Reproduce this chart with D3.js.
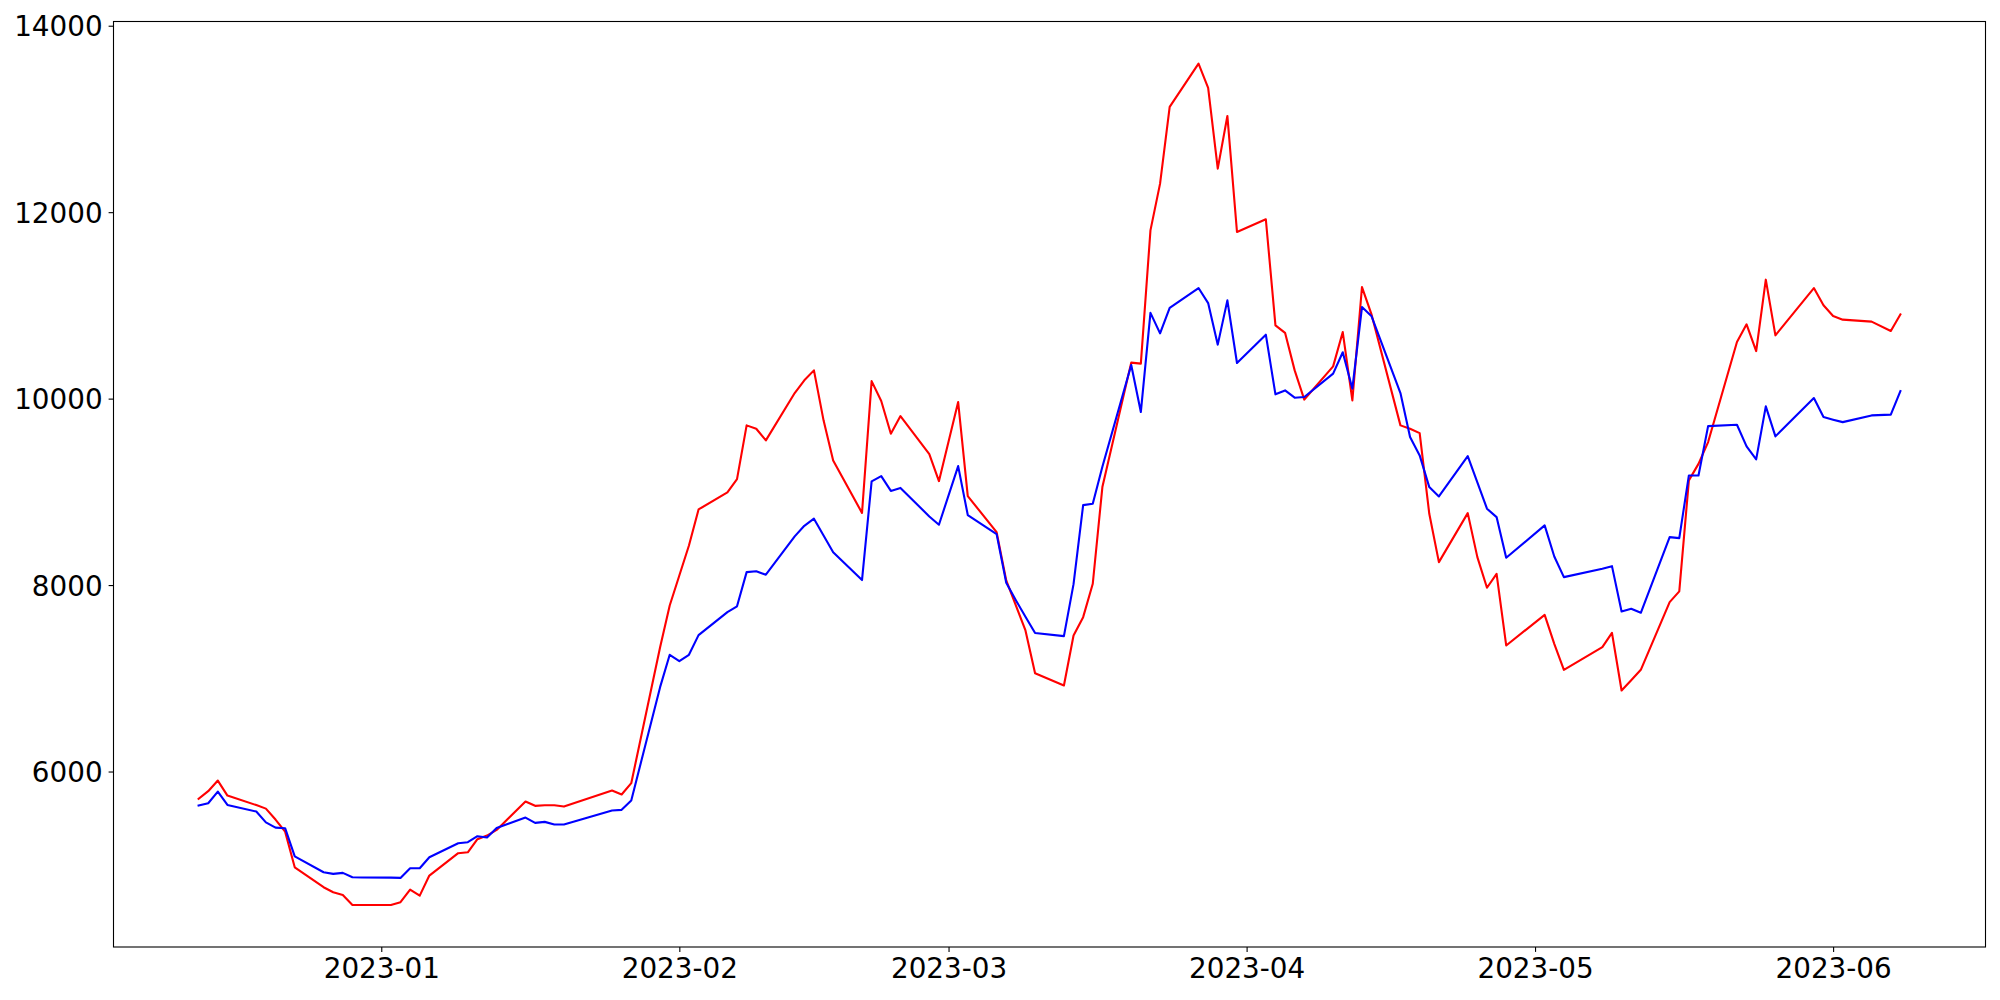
<!DOCTYPE html>
<html>
<head>
<meta charset="utf-8">
<script src="https://cdn.jsdelivr.net/npm/d3@7"></script>
<style>
  html, body { margin: 0; padding: 0; background: #ffffff; }
  svg { display: block; }
</style>
</head>
<body>
<svg id="chart" width="2000" height="1000"></svg>
<script>
// ---- data ----
const dates = [
  "2022-12-13","2022-12-14","2022-12-15","2022-12-16","2022-12-19","2022-12-20","2022-12-21","2022-12-22","2022-12-23",
  "2022-12-26","2022-12-27","2022-12-28","2022-12-29","2022-12-30",
  "2023-01-02","2023-01-03","2023-01-04","2023-01-05","2023-01-06",
  "2023-01-09","2023-01-10","2023-01-11","2023-01-12","2023-01-13",
  "2023-01-16","2023-01-17","2023-01-18","2023-01-19","2023-01-20",
  "2023-01-25","2023-01-26","2023-01-27",
  "2023-01-30","2023-01-31","2023-02-01","2023-02-02","2023-02-03",
  "2023-02-06","2023-02-07","2023-02-08","2023-02-09","2023-02-10",
  "2023-02-13","2023-02-14","2023-02-15","2023-02-16","2023-02-17",
  "2023-02-20","2023-02-21","2023-02-22","2023-02-23","2023-02-24",
  "2023-02-27","2023-02-28","2023-03-02","2023-03-03",
  "2023-03-06","2023-03-07","2023-03-08","2023-03-09","2023-03-10",
  "2023-03-13","2023-03-14","2023-03-15","2023-03-16","2023-03-17",
  "2023-03-20","2023-03-21","2023-03-22","2023-03-23","2023-03-24",
  "2023-03-27","2023-03-28","2023-03-29","2023-03-30","2023-03-31",
  "2023-04-03","2023-04-04","2023-04-05","2023-04-06","2023-04-07",
  "2023-04-10","2023-04-11","2023-04-12","2023-04-13","2023-04-14",
  "2023-04-17","2023-04-18","2023-04-19","2023-04-20","2023-04-21",
  "2023-04-24","2023-04-25","2023-04-26","2023-04-27","2023-04-28",
  "2023-05-02","2023-05-03","2023-05-04","2023-05-08","2023-05-09",
  "2023-05-10","2023-05-11","2023-05-12",
  "2023-05-15","2023-05-16","2023-05-17","2023-05-18","2023-05-19",
  "2023-05-22","2023-05-23","2023-05-24","2023-05-25","2023-05-26",
  "2023-05-30","2023-05-31","2023-06-01","2023-06-02",
  "2023-06-05","2023-06-07","2023-06-08"
];

const redValues = [
  5707, 5789, 5903, 5742, 5640, 5602, 5485, 5355, 4973,
  4759, 4705, 4676, 4569, 4569,
  4569, 4598, 4734, 4669, 4884,
  5124, 5134, 5274, 5313, 5374,
  5678, 5632, 5639, 5639, 5624,
  5796, 5753, 5875,
  7334, 7781, 8103, 8425, 8811,
  8995, 9137, 9713, 9677, 9552,
  10060, 10196, 10303, 9767, 9337,
  8774, 10188, 9974, 9624, 9813,
  9405, 9115, 9963, 8954,
  8568, 8050, 7781, 7513, 7055,
  6923, 7459, 7656, 8014, 9051,
  10386, 10375, 11805, 12306, 13129,
  13594, 13333, 12467, 13032, 11787,
  11924, 10786, 10706, 10303, 9990,
  10346, 10714, 9981, 11197, 10900,
  9713, 9677, 9630, 8765, 8246,
  8772, 8300, 7971, 8121, 7352,
  7681, 7370, 7091, 7334, 7488,
  6869, 6980, 7091,
  7817, 7932, 9123, 9300, 9534,
  10607, 10797, 10510, 11276, 10679,
  11186, 11001, 10886, 10847,
  10826, 10725, 10904
];

const blueValues = [
  5635, 5660, 5785, 5642, 5571, 5455, 5398, 5392, 5090,
  4920, 4902, 4913, 4866, 4864,
  4862, 4859, 4963, 4963, 5081,
  5231, 5242, 5306, 5292, 5395,
  5506, 5449, 5460, 5431, 5431,
  5582, 5589, 5689,
  6905, 7252, 7184, 7252, 7463,
  7710, 7772, 8139, 8149, 8111,
  8522, 8636, 8712, 8532, 8353,
  8054, 9112, 9168, 9010, 9042,
  8736, 8647, 9276, 8751,
  8547, 8025, 7838, 7660, 7486,
  7452, 8010, 8858, 8873, 9270,
  10360, 9856, 10920, 10700, 10974,
  11186, 11025, 10579, 11054, 10382,
  10686, 10046, 10088, 10010, 10017,
  10268, 10497, 10107, 10982, 10883,
  10060, 9588, 9391, 9051, 8951,
  9384, 9101, 8819, 8729, 8293,
  8640, 8307, 8085, 8175, 8203,
  7717, 7746, 7703,
  8514, 8504, 9176, 9176, 9705,
  9720, 9488, 9348, 9917, 9595,
  10006, 9802, 9774, 9748,
  9820, 9828, 10081
];

const yTicks = [6000, 8000, 10000, 12000, 14000];
const xTickLabels = ["2023-01", "2023-02", "2023-03", "2023-04", "2023-05", "2023-06"];

// ---- drawing ----
const W = 2000, H = 1000;
const margin = { left: 113.5, right: 14.5, top: 21.5, bottom: 53 };
const iw = W - margin.left - margin.right;
const ih = H - margin.top - margin.bottom;

const parse = d3.timeParse("%Y-%m-%d");
const parseMonth = d3.timeParse("%Y-%m");
const fmtMonth = d3.timeFormat("%Y-%m");
const times = dates.map(parse);

const red = times.map((t, i) => ({ t, v: redValues[i] }));
const blue = times.map((t, i) => ({ t, v: blueValues[i] }));

// matplotlib-style 5% margins
const tExt = d3.extent(times);
const tPad = (tExt[1] - tExt[0]) * 0.05;
const allV = redValues.concat(blueValues);
const vExt = d3.extent(allV);
const vPad = (vExt[1] - vExt[0]) * 0.05;

const x = d3.scaleTime()
  .domain([new Date(+tExt[0] - tPad), new Date(+tExt[1] + tPad)])
  .range([0, iw]);
const y = d3.scaleLinear()
  .domain([vExt[0] - vPad, vExt[1] + vPad])
  .range([ih, 0]);

const svg = d3.select("#chart");
const g = svg.append("g").attr("transform", `translate(${margin.left},${margin.top})`);

const fontSize = 27.8;
const tickLen = 4.9;

const line = d3.line().x(d => x(d.t)).y(d => y(d.v));

g.append("path").datum(red)
  .attr("fill", "none").attr("stroke", "#ff0000")
  .attr("stroke-width", 2.1).attr("stroke-linejoin", "round").attr("stroke-linecap", "square")
  .attr("d", line);

g.append("path").datum(blue)
  .attr("fill", "none").attr("stroke", "#0000ff")
  .attr("stroke-width", 2.1).attr("stroke-linejoin", "round").attr("stroke-linecap", "square")
  .attr("d", line);

// axes
const xAxis = d3.axisBottom(x)
  .tickValues(xTickLabels.map(parseMonth))
  .tickFormat(fmtMonth)
  .tickSize(tickLen).tickPadding(4.9).tickSizeOuter(0);
const yAxis = d3.axisLeft(y)
  .tickValues(yTicks)
  .tickFormat(d3.format("d"))
  .tickSize(tickLen).tickPadding(6).tickSizeOuter(0);

const gx = g.append("g").attr("transform", `translate(0,${ih})`).call(xAxis);
const gy = g.append("g").call(yAxis);

[gx, gy].forEach(ax => {
  ax.select(".domain").remove();
  ax.selectAll(".tick line").attr("stroke", "#000").attr("stroke-width", 1.1);
  ax.selectAll(".tick text")
    .attr("fill", "#000")
    .style("font-family", "'DejaVu Sans', sans-serif")
    .style("font-size", fontSize + "px");
});
gx.selectAll(".tick text").attr("dy", "0.78em");
gy.selectAll(".tick text").attr("dy", "0.36em");

// frame (spines)
g.append("rect")
  .attr("x", 0).attr("y", 0).attr("width", iw).attr("height", ih)
  .attr("fill", "none").attr("stroke", "#000").attr("stroke-width", 1.1);
</script>
</body>
</html>
